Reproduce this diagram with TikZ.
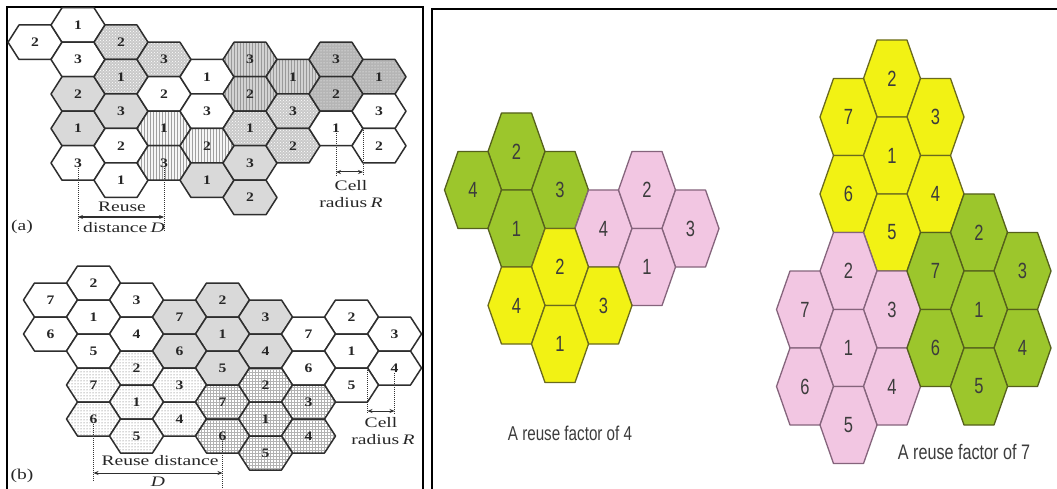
\documentclass[tikz,border=0pt]{standalone}
\usepackage{fontspec}
\usepackage{graphicx}
\setmainfont{Liberation Serif}
\newfontfamily\rsans{Liberation Sans}
\usetikzlibrary{patterns,arrows.meta}
\definecolor{hgreen}{HTML}{9CC62C}
\definecolor{hyellow}{HTML}{F2F214}
\definecolor{hpink}{HTML}{F2C6E2}
\definecolor{gedge}{HTML}{55601C}
\definecolor{yedge}{HTML}{6A6A1E}
\definecolor{pedge}{HTML}{85647C}
\definecolor{ink}{HTML}{262626}
\definecolor{hedge}{HTML}{2E2E2E}
\definecolor{rink}{HTML}{3C3C3C}
\newcommand{\lblbox}[1]{\scalebox{1.2}[1]{#1}}
\newcommand{\hexcell}[5]{%
  \path[#4] (#2-\hR,#3) -- (#2-\ha,#3-\hh) -- (#2+\ha,#3-\hh) -- (#2+\hR,#3) -- (#2+\ha,#3+\hh) -- (#2-\ha,#3+\hh) -- cycle;
  \node[lbl] (#1) at (#2,#3) {\lblbox{#5}};}
\tikzset{
  hexa/.style={draw=hedge, line width=1.5pt, line join=round},
  wh/.style={hexa, fill=white},
  gr/.style={hexa, fill=gray!30},
  wavy/.style={hexa, preaction={fill=gray!42}, pattern=crosshatch dots, pattern color=white},
  vl/.style={hexa, preaction={fill=gray!8}, pattern=vertical lines, pattern color=gray!75},
  gvl/.style={hexa, preaction={fill=gray!35}, pattern=vertical lines, pattern color=gray!80},
  dk/.style={hexa, preaction={fill=gray!58}, pattern=dots, pattern color=white},
  dt/.style={hexa, preaction={fill=white}, pattern=dots, pattern color=gray!70!black},
  gd/.style={hexa, preaction={fill=white}, pattern=grid, pattern color=gray!60},
  lbl/.style={font=\fontsize{13}{13}\selectfont\bfseries, text=ink, inner sep=0.5pt},
  dim/.style={densely dotted, line width=1pt, draw=gray!40!black},
  arr/.style={line width=1pt, draw=hedge, {Stealth[length=5pt,width=4pt]}-{Stealth[length=5pt,width=4pt]}},
  txt/.style={font=\fontsize{14.5}{14.5}\selectfont, text=ink, inner sep=0pt},
  rg/.style={draw=gedge, line width=1.3pt, line join=round, fill=hgreen},
  ry/.style={draw=yedge, line width=1.3pt, line join=round, fill=hyellow},
  rp/.style={draw=pedge, line width=1.3pt, line join=round, fill=hpink},
  captxt/.style={font=\rsans\fontsize{21}{21}\selectfont, text=rink, inner sep=0pt}
}
\begin{document}
\begin{tikzpicture}[x=1pt,y=-1pt]
\useasboundingbox (0,0) rectangle (1057,489);
\fill[white] (0,0) rectangle (1057,489);
% frames
\draw[line width=1.3pt] (7,500) -- (7,7) -- (423,7) -- (423,500);
\draw[line width=1.3pt] (432,500) -- (432,9) -- (1065,9);
% ---------- (a) ----------
\def\hR{27}\def\ha{16}\def\hh{17.25}
\hexcell{a0r1}{35}{42.25}{wh}{2}
\hexcell{a1r0}{78}{25}{wh}{1}
\hexcell{a1r1}{78}{59.5}{wh}{3}
\hexcell{a1r2}{78}{94}{gr}{2}
\hexcell{a1r3}{78}{128.5}{gr}{1}
\hexcell{a1r4}{78}{163}{wh}{3}
\hexcell{a2r1}{121}{42.25}{wavy}{2}
\hexcell{a2r2}{121}{76.75}{wavy}{1}
\hexcell{a2r3}{121}{111.25}{gr}{3}
\hexcell{a2r4}{121}{145.75}{wh}{2}
\hexcell{a2r5}{121}{180.25}{wh}{1}
\hexcell{a3r1}{164}{59.5}{wavy}{3}
\hexcell{a3r2}{164}{94}{wh}{2}
\hexcell{a3r3}{164}{128.5}{vl}{1}
\hexcell{a3r4}{164}{163}{vl}{3}
\hexcell{a4r2}{207}{76.75}{wh}{1}
\hexcell{a4r3}{207}{111.25}{wh}{3}
\hexcell{a4r4}{207}{145.75}{vl}{2}
\hexcell{a4r5}{207}{180.25}{gr}{1}
\hexcell{a5r1}{250}{59.5}{gvl}{3}
\hexcell{a5r2}{250}{94}{gvl}{2}
\hexcell{a5r3}{250}{128.5}{wavy}{1}
\hexcell{a5r4}{250}{163}{gr}{3}
\hexcell{a5r5}{250}{197.5}{gr}{2}
\hexcell{a6r2}{293}{76.75}{gvl}{1}
\hexcell{a6r3}{293}{111.25}{wavy}{3}
\hexcell{a6r4}{293}{145.75}{wavy}{2}
\hexcell{a7r1}{336}{59.5}{dk}{3}
\hexcell{a7r2}{336}{94}{dk}{2}
\hexcell{a7r3}{336}{128.5}{wh}{1}
\hexcell{a8r2}{379}{76.75}{dk}{1}
\hexcell{a8r3}{379}{111.25}{wh}{3}
\hexcell{a8r4}{379}{145.75}{wh}{2}
% reuse distance (a)
\coordinate (aDL) at (78,231);
\coordinate (aDR) at (164,231);
\coordinate (aAL) at (78,217);
\coordinate (aAR) at (164,217);
\draw[dim] (a1r4) -- (aDL);
\draw[dim] (a3r4) -- (aDR);
\draw[arr] (aAL) -- (aAR);
\node[txt] (aReuse) at (122,207) {\scalebox{1.35}[1]{Reuse}};
\node[txt] (aDist) at (124,228) {\scalebox{1.35}[1]{distance\,\textit{D}}};
\node[txt, font=\fontsize{15}{15}\selectfont] (aLab) at (22,227) {\scalebox{1.3}[1]{(a)}};
% cell radius (a)
\coordinate (aV) at (363,128.5);
\coordinate (aC1) at (336,176);
\coordinate (aC2) at (363,176);
\coordinate (aCa) at (336,172);
\coordinate (aCb) at (363,172);
\draw[dim] (a7r3) -- (aC1);
\draw[dim] (aV) -- (aC2);
\draw[arr] (aCa) -- (aCb);
\node[txt] (aCell) at (351,186) {\scalebox{1.35}[1]{Cell}};
\node[txt] (aRad) at (351,203) {\scalebox{1.35}[1]{radius\,\textit{R}}};
% ---------- (b) ----------
\def\hh{17}
% white cluster 1
\hexcell{b1r0}{93.5}{283}{wh}{2}
\hexcell{b0r0}{50.5}{300}{wh}{7}
\hexcell{b2r0}{136.5}{300}{wh}{3}
\hexcell{b1r1}{93.5}{317}{wh}{1}
\hexcell{b0r1}{50.5}{334}{wh}{6}
\hexcell{b2r1}{136.5}{334}{wh}{4}
\hexcell{b1r2}{93.5}{351}{wh}{5}
% grey cluster
\hexcell{b4r0}{222.5}{300}{gr}{2}
\hexcell{b3r1}{179.5}{317}{gr}{7}
\hexcell{b5r1}{265.5}{317}{gr}{3}
\hexcell{b4r1}{222.5}{334}{gr}{1}
\hexcell{b3r2}{179.5}{351}{gr}{6}
\hexcell{b5r2}{265.5}{351}{gr}{4}
\hexcell{b4r2}{222.5}{368}{gr}{5}
% white cluster 2
\hexcell{b7r1}{351.5}{317}{wh}{2}
\hexcell{b6r1}{308.5}{334}{wh}{7}
\hexcell{b8r1}{394.5}{334}{wh}{3}
\hexcell{b7r2}{351.5}{351}{wh}{1}
\hexcell{b6r2}{308.5}{368}{wh}{6}
\hexcell{b8r2}{394.5}{368}{wh}{4}
\hexcell{b7r3}{351.5}{385}{wh}{5}
% dotted cluster
\hexcell{b2r2}{136.5}{368}{dt}{2}
\hexcell{b1r3}{93.5}{385}{dt}{7}
\hexcell{b3r3}{179.5}{385}{dt}{3}
\hexcell{b2r3}{136.5}{402}{dt}{1}
\hexcell{b1r4}{93.5}{419}{dt}{6}
\hexcell{b3r4}{179.5}{419}{dt}{4}
\hexcell{b2r4}{136.5}{436}{dt}{5}
% grid cluster
\hexcell{b5r3}{265.5}{385}{gd}{2}
\hexcell{b4r3}{222.5}{402}{gd}{7}
\hexcell{b6r3}{308.5}{402}{gd}{3}
\hexcell{b5r4}{265.5}{419}{gd}{1}
\hexcell{b4r4}{222.5}{436}{gd}{6}
\hexcell{b6r4}{308.5}{436}{gd}{4}
\hexcell{b5r5}{265.5}{453}{gd}{5}
% reuse distance (b)
\coordinate (bDL) at (93.5,481);
\coordinate (bDR) at (222.5,489);
\coordinate (bAL) at (93.5,473);
\coordinate (bAR) at (222.5,473);
\draw[dim] (b1r4) -- (bDL);
\draw[dim] (b4r4) -- (bDR);
\draw[arr] (bAL) -- (bAR);
\node[txt] (bReuse) at (160,461) {\scalebox{1.35}[1]{Reuse distance}};
\node[txt] (bD) at (158,481.5) {\scalebox{1.35}[1]{\textit{D}}};
\node[txt, font=\fontsize{15}{15}\selectfont] (bLab) at (22,476) {\scalebox{1.3}[1]{(b)}};
% cell radius (b)
\coordinate (bV) at (367.5,368);
\coordinate (bC1) at (367.5,414);
\coordinate (bC2) at (394.5,414);
\coordinate (bCa) at (367.5,411);
\coordinate (bCb) at (394.5,411);
\draw[dim] (bV) -- (bC1);
\draw[dim] (b8r2) -- (bC2);
\draw[arr] (bCa) -- (bCb);
\node[txt] (bCell) at (381,423) {\scalebox{1.35}[1]{Cell}};
\node[txt] (bRad) at (383,440) {\scalebox{1.35}[1]{radius\,\textit{R}}};
% ---------- right panel ----------
\renewcommand{\lblbox}[1]{\scalebox{0.75}[1]{#1}}
\tikzset{lbl/.style={font=\rsans\fontsize{22}{22}\selectfont, text=rink, inner sep=0.5pt}}
\def\hR{28.5}\def\ha{15}\def\hh{38.5}
% reuse 4
\hexcell{f4g2}{516.5}{151.5}{rg}{2}
\hexcell{f4g4}{473}{190}{rg}{4}
\hexcell{f4g3}{560}{190}{rg}{3}
\hexcell{f4g1}{516.5}{228.5}{rg}{1}
\hexcell{f4p4}{603.5}{228.5}{rp}{4}
\hexcell{f4p2}{647}{190}{rp}{2}
\hexcell{f4p3}{690.5}{228.5}{rp}{3}
\hexcell{f4p1}{647}{267}{rp}{1}
\hexcell{f4y2}{560}{267}{ry}{2}
\hexcell{f4y4}{516.5}{305.5}{ry}{4}
\hexcell{f4y3}{603.5}{305.5}{ry}{3}
\hexcell{f4y1}{560}{344}{ry}{1}
\node[captxt, font=\rsans\fontsize{20}{20}\selectfont] (cap4) at (570,433) {\scalebox{0.76}[1]{A reuse factor of 4}};
% reuse 7
\hexcell{f7y2}{892}{78.5}{ry}{2}
\hexcell{f7y7}{848.5}{117}{ry}{7}
\hexcell{f7y3}{935.5}{117}{ry}{3}
\hexcell{f7y1}{892}{155.5}{ry}{1}
\hexcell{f7y6}{848.5}{194}{ry}{6}
\hexcell{f7y4}{935.5}{194}{ry}{4}
\hexcell{f7y5}{892}{232.5}{ry}{5}
\hexcell{f7p2}{848.5}{271}{rp}{2}
\hexcell{f7p7}{805}{309.5}{rp}{7}
\hexcell{f7p3}{892}{309.5}{rp}{3}
\hexcell{f7p1}{848.5}{348}{rp}{1}
\hexcell{f7p6}{805}{386.5}{rp}{6}
\hexcell{f7p4}{892}{386.5}{rp}{4}
\hexcell{f7p5}{848.5}{425}{rp}{5}
\hexcell{f7g2}{979}{232.5}{rg}{2}
\hexcell{f7g7}{935.5}{271}{rg}{7}
\hexcell{f7g3}{1022.5}{271}{rg}{3}
\hexcell{f7g1}{979}{309.5}{rg}{1}
\hexcell{f7g6}{935.5}{348}{rg}{6}
\hexcell{f7g4}{1022.5}{348}{rg}{4}
\hexcell{f7g5}{979}{386.5}{rg}{5}
\node[captxt] (cap7) at (964,452) {\scalebox{0.77}[1]{A reuse factor of 7}};
\end{tikzpicture}
\end{document}
